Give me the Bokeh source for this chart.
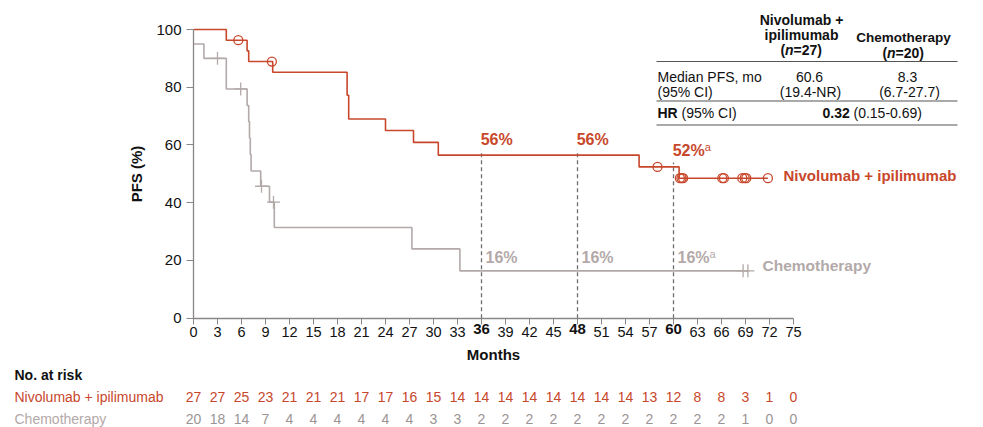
import math
from bokeh.plotting import figure
from bokeh.models import Label, FixedTicker, Range1d
from bokeh.core.properties import value
from bokeh.embed import file_html
from bokeh.resources import INLINE

# ---------------- data ----------------
# Kaplan-Meier step curves: event times (months) and PFS (%) after each step
nivo_times = [0, 4.1, 6.7, 6.9, 9.9, 19.2, 19.4, 24.0, 27.5, 30.6, 55.7, 60.7]
nivo_surv = [100, 96.3, 92.6, 88.9, 85.2, 77.2, 69.0, 65.0, 60.9, 56.5, 52.4, 48.5]
nivo_last = 71.8
nivo_censor = [5.6, 9.8, 58.0, 60.8, 61.0, 61.2, 66.1, 66.3, 68.6, 68.9, 69.1, 71.8]

chemo_times = [0, 1.3, 4.1, 6.7, 6.9, 7.0, 7.1, 7.2, 8.4, 9.5, 10.1, 27.3, 33.3]
chemo_surv = [95, 90, 79.4, 73.7, 68.1, 62.4, 56.7, 51.0, 45.7, 40.2, 31.4, 24.0, 16.4]
chemo_last = 69.3
chemo_censor = [3.0, 5.9, 8.5, 10.0, 68.7, 69.3]

landmarks = [36, 48, 60]
footnoted = [60]

x_ticks = list(range(0, 76, 3))
y_ticks = [0, 20, 40, 60, 80, 100]

risk_months = list(range(0, 76, 3))
nivo_risk = [27, 27, 25, 23, 21, 21, 21, 17, 17, 16, 15, 14, 14, 14, 14, 14, 14, 14, 14, 13, 12, 8, 8, 3, 1, 0]
chemo_risk = [20, 18, 14, 7, 4, 4, 4, 4, 4, 4, 3, 3, 2, 2, 2, 2, 2, 2, 2, 2, 2, 2, 2, 1, 0, 0]

nivo_name = "Nivolumab + ipilimumab"
chemo_name = "Chemotherapy"
nivo_n = 27
chemo_n = 20
median_nivo = ("60.6", "(19.4-NR)")
median_chemo = ("8.3", "(6.7-27.7)")
hr_value = "0.32"
hr_ci = "(0.15-0.69)"

# ---------------- style ----------------
RED = "#c8472b"
GRAY = "#b3a9a9"
AXIS = "#8a8686"
DASH = "#6e6e6e"
FONT = "Liberation Sans"

W, H = 983, 427
X0_PX, PX_PER_MONTH = 193.0, 8.0      # month 0 position, scale
Y0_PX, PX_PER_PCT = 317.7, 2.887      # 0 % position, scale


def dx(px):
    return (px - X0_PX) / PX_PER_MONTH


def dy(py):
    return (Y0_PX - py) / PX_PER_PCT


def surv_at(times, surv, t):
    s = surv[0]
    for ti, si in zip(times, surv):
        if ti <= t:
            s = si
    return s


p = figure(width=W, height=H, output_backend="svg", toolbar_location=None,
           x_range=Range1d(dx(0), dx(W)), y_range=Range1d(dy(H), dy(0)),
           min_border=0, min_border_left=0, min_border_right=0,
           min_border_top=0, min_border_bottom=0)
p.outline_line_color = None
p.grid.visible = False
p.background_fill_color = "white"
p.border_fill_color = "white"

# ---------------- axes ----------------
xa = p.xaxis[0]
xa.fixed_location = 0
xa.bounds = (0, 75)
xa.ticker = FixedTicker(ticks=x_ticks)
xa.major_label_overrides = {t: "" for t in landmarks}
xa.major_tick_in = 0
xa.major_tick_out = 6
xa.minor_tick_line_color = None
xa.axis_line_color = AXIS
xa.major_tick_line_color = AXIS
xa.axis_line_width = 1.3
xa.major_label_text_font = FONT
xa.major_label_text_font_size = "14.5px"
xa.major_label_text_color = "#111111"
xa.major_label_standoff = 3
xa.axis_label = "Months"
xa.axis_label_text_font = FONT
xa.axis_label_text_font_style = "bold"
xa.axis_label_text_font_size = "15px"
xa.axis_label_text_color = "#111111"
xa.axis_label_standoff = 5

ya = p.yaxis[0]
ya.fixed_location = 0
ya.bounds = (0, 100)
ya.ticker = FixedTicker(ticks=y_ticks)
ya.major_tick_in = 0
ya.major_tick_out = 7
ya.minor_tick_line_color = None
ya.axis_line_color = AXIS
ya.major_tick_line_color = AXIS
ya.axis_line_width = 1.3
ya.major_label_text_font = FONT
ya.major_label_text_font_size = "15px"
ya.major_label_text_color = "#111111"
ya.major_label_standoff = 5
ya.axis_label = "PFS (%)"
ya.axis_label_text_font = FONT
ya.axis_label_text_font_style = "bold"
ya.axis_label_text_font_size = "15px"
ya.axis_label_text_color = "#111111"
ya.axis_label_standoff = 8

# bold landmark tick labels
p.text(x=landmarks, y=[dy(323)] * len(landmarks), text=[str(t) for t in landmarks],
       text_font=value(FONT), text_font_style="bold", text_font_size="15px",
       text_color="#111111", text_align="center", text_baseline="top")

# ---------------- landmark lines ----------------
nivo_land = [surv_at(nivo_times, nivo_surv, t) for t in landmarks]
chemo_land = [surv_at(chemo_times, chemo_surv, t) for t in landmarks]
p.segment(x0=landmarks, y0=[0] * len(landmarks), x1=landmarks,
          y1=[s + 1.5 for s in nivo_land],
          line_color=DASH, line_width=1.3, line_dash="4 3")

# ---------------- curves ----------------
p.step(x=nivo_times + [nivo_last], y=nivo_surv + [nivo_surv[-1]], mode="after",
       line_color=RED, line_width=1.6)
p.step(x=chemo_times + [chemo_last], y=chemo_surv + [chemo_surv[-1]], mode="after",
       line_color=GRAY, line_width=1.6)

p.scatter(x=nivo_censor, y=[surv_at(nivo_times, nivo_surv, t) for t in nivo_censor],
          marker="circle", size=9, fill_color=None, line_color=RED, line_width=1.3)
p.scatter(x=chemo_censor, y=[surv_at(chemo_times, chemo_surv, t) for t in chemo_censor],
          marker="cross", size=13, line_color=GRAY, line_width=1.3)

# ---------------- landmark percentages ----------------
p.text(x=[t - 0.1 for t in landmarks], y=[s + 16 / PX_PER_PCT for s in nivo_land],
       text=[f"{round(s)}%" for s in nivo_land],
       text_font=value(FONT), text_font_style="bold", text_font_size="16px",
       text_color=RED, text_align="left", text_baseline="middle")
p.text(x=[t + 0.5 for t in landmarks], y=[s + 13 / PX_PER_PCT for s in chemo_land],
       text=[f"{round(s)}%" for s in chemo_land],
       text_font=value(FONT), text_font_style="bold", text_font_size="16px",
       text_color=GRAY, text_align="left", text_baseline="middle")
for t in footnoted:
    i = landmarks.index(t)
    p.text(x=[t - 0.1 + 4.0], y=[nivo_land[i] + 20 / PX_PER_PCT], text=["a"],
           text_font=value(FONT), text_font_size="11px", text_color=RED,
           text_align="left", text_baseline="middle")
    p.text(x=[t + 0.5 + 4.0], y=[chemo_land[i] + 17 / PX_PER_PCT], text=["a"],
           text_font=value(FONT), text_font_size="11px", text_color=GRAY,
           text_align="left", text_baseline="middle")

# ---------------- curve names ----------------
def put(text, px, py, size=14, color="#111111", bold=False, italic=False,
        align="left", font=FONT, baseline="middle"):
    style = "bold italic" if (bold and italic) else ("bold" if bold else ("italic" if italic else "normal"))
    p.add_layout(Label(x=dx(px), y=dy(py), text=text, text_font=font,
                       text_font_size=f"{size}px", text_color=color,
                       text_font_style=style, text_align=align,
                       text_baseline=baseline))


put(nivo_name, 783, 175, size=15, color=RED, bold=True)
put(chemo_name, 762, 265, size=15.5, color=GRAY, bold=True)

# ---------------- summary table ----------------
put("Nivolumab +", 801, 19, bold=True, align="center")
put("ipilimumab", 801, 34, bold=True, align="center")
put("(", 780, 49, bold=True)
put("n", 784.5, 49, bold=True, italic=True)
put(f"={nivo_n})", 793, 49, bold=True)
put(chemo_name, 903, 37, size=13.5, bold=True, align="center")
put("(", 882, 52, bold=True)
put("n", 886.5, 52, bold=True, italic=True)
put(f"={chemo_n})", 895, 52, bold=True)

table_left, table_right = 656, 957
p.segment(x0=[dx(table_left)] * 3, x1=[dx(table_right)] * 3,
          y0=[dy(61), dy(100.5), dy(124.5)], y1=[dy(61), dy(100.5), dy(124.5)],
          line_color="#555555", line_width=1.2)

put("Median PFS, mo", 657, 76)
put("(95% CI)", 657, 91)
put(median_nivo[0], 809, 76, align="center")
put(median_nivo[1], 810, 91, align="center")
put(median_chemo[0], 907, 76, align="center")
put(median_chemo[1], 909, 91, align="center")
put("HR", 657, 112, bold=True)
put("(95% CI)", 681, 112)
put(hr_value, 822, 112, bold=True)
put(hr_ci, 853, 112)

# ---------------- number at risk ----------------
put("No. at risk", 14, 374, bold=True)
put(nivo_name, 14, 396, color=RED)
put(chemo_name, 14, 418, color=GRAY)
p.text(x=risk_months, y=[dy(396)] * len(risk_months), text=[str(v) for v in nivo_risk],
       text_font=value(FONT), text_font_size="14px", text_color=RED,
       text_align="center", text_baseline="middle")
p.text(x=risk_months, y=[dy(418)] * len(risk_months), text=[str(v) for v in chemo_risk],
       text_font=value(FONT), text_font_size="14px", text_color="#9a9494",
       text_align="center", text_baseline="middle")

open("out.html", "w").write(file_html(p, INLINE))
